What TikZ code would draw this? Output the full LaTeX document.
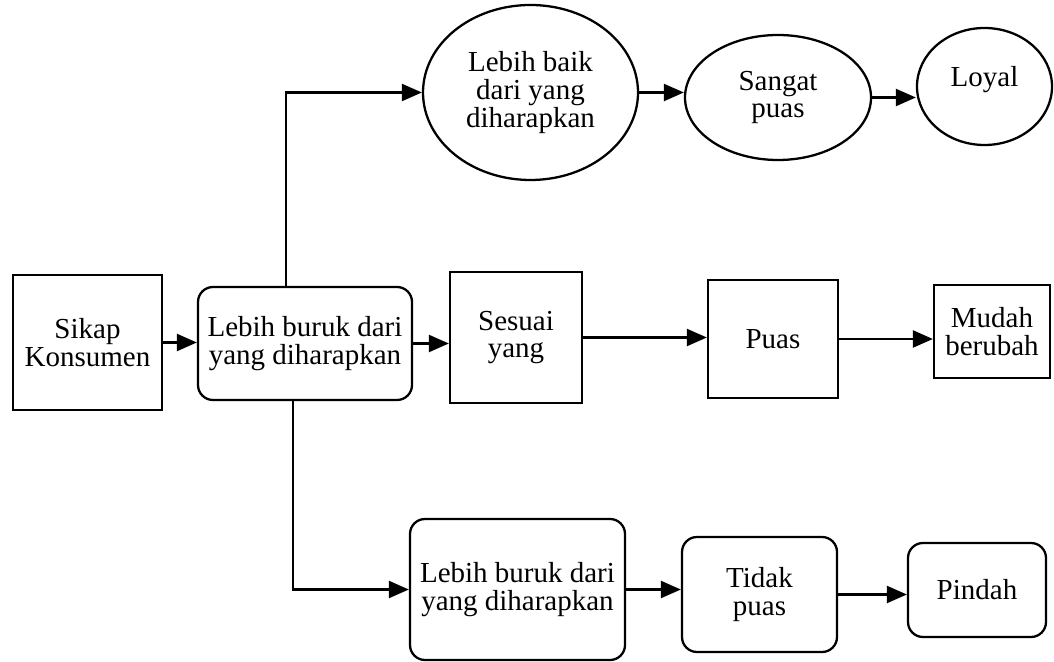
\documentclass[tikz,border=0pt]{standalone}
\usepackage{fontspec}
\setmainfont{Liberation Serif}
\usetikzlibrary{arrows.meta,shapes.geometric}

\begin{document}
\begin{tikzpicture}[
    box/.style={draw, line width=1.3pt, inner sep=0pt, align=center, font=\fontsize{16.5}{15.8}\selectfont},
    roundbox/.style={box, rounded corners=0.3cm},
    oval/.style={box, ellipse},
    arr/.style={line width=1.3pt, -{Triangle[length=0.40cm,width=0.34cm]}}
  ]
    \useasboundingbox (0,0) rectangle (21.08,13.22);

    % Start
    \node[box, minimum width=2.98cm, minimum height=2.70cm] (sikap) at (1.75,6.37) {Sikap\\Konsumen};
    \node[roundbox, minimum width=4.28cm, minimum height=2.26cm] (buruk) at (6.10,6.35) {Lebih buruk dari\\yang diharapkan};

    % Top row
    \node[oval, minimum width=4.30cm, minimum height=3.50cm] (baik) at (10.61,11.37) {Lebih baik\\dari yang\\diharapkan};
    \node[oval, minimum width=3.72cm, minimum height=2.50cm] (sangat) at (15.56,11.27) {Sangat\\puas};
    \node[oval, minimum width=2.70cm, minimum height=2.34cm] (loyal) at (19.69,11.49) {\raisebox{0.4cm}{Loyal}};

    % Middle row
    \node[box, minimum width=2.64cm, minimum height=2.62cm] (sesuai) at (10.32,6.47) {Sesuai\\yang};
    \node[box, minimum width=2.60cm, minimum height=2.36cm] (puas) at (15.46,6.44) {Puas};
    \node[box, minimum width=2.32cm, minimum height=1.86cm] (mudah) at (19.84,6.59) {Mudah\\berubah};

    % Bottom row
    \node[roundbox, minimum width=4.30cm, minimum height=2.82cm] (burukb) at (10.35,1.43) {Lebih buruk dari\\yang diharapkan};
    \node[roundbox, minimum width=3.10cm, minimum height=2.30cm] (tidak) at (15.19,1.33) {Tidak\\puas};
    \node[roundbox, minimum width=2.76cm, minimum height=1.88cm] (pindah) at (19.54,1.42) {Pindah};

    % Branches
    \draw[arr] (sikap.east) -- (sikap.east -| buruk.west);
    \draw[arr] ([xshift=-0.38cm]buruk.north) |- (baik.west);
    \draw[arr] (buruk.east) -- (buruk.east -| sesuai.west);
    \draw[arr] ([xshift=-0.24cm]buruk.south) |- (burukb.west);

    % Outcomes
    \draw[arr] (baik.east) -- (baik.east -| sangat.west);
    \draw[arr] (sangat.east) -- (sangat.east -| loyal.west);
    \draw[arr] (sesuai.east) -- (sesuai.east -| puas.west);
    \draw[arr] (puas.east) -- (puas.east -| mudah.west);
    \draw[arr] (burukb.east) -- (burukb.east -| tidak.west);
    \draw[arr] (tidak.east) -- (tidak.east -| pindah.west);
  \end{tikzpicture}
\end{document}
